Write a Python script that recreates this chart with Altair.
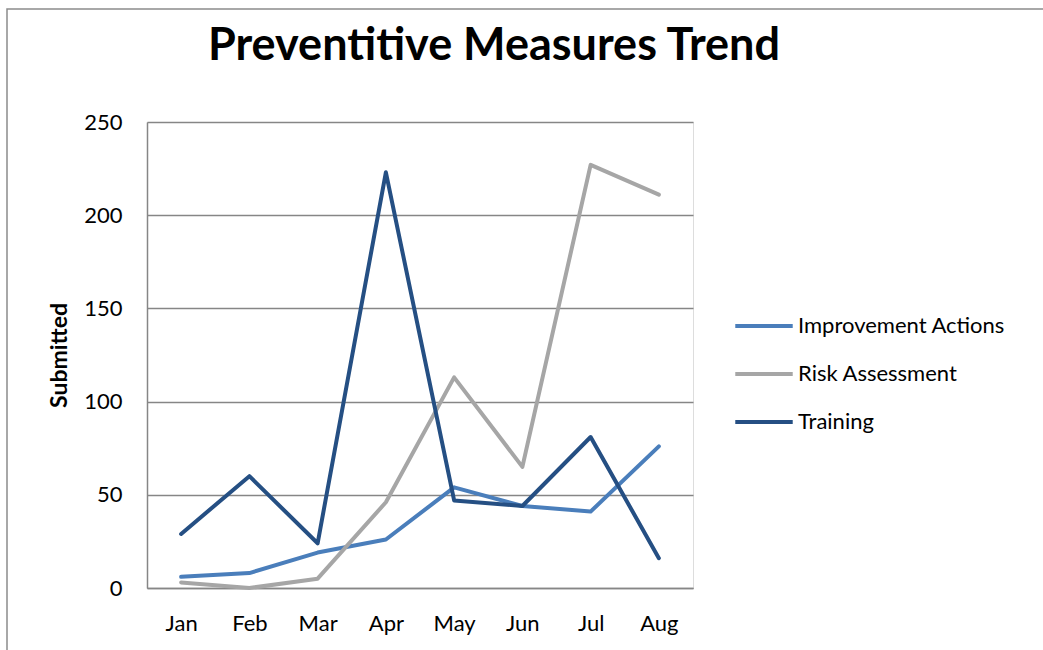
import altair as alt
import pandas as pd

months = ["Jan", "Feb", "Mar", "Apr", "May", "Jun", "Jul", "Aug"]
improvement_actions = [6, 8, 19, 26, 54, 44, 41, 76]
risk_assessment = [3, 0, 5, 46, 113, 65, 227, 211]
training = [29, 60, 24, 223, 47, 44, 81, 16]

series_names = ["Improvement Actions", "Risk Assessment", "Training"]
series_colors = ["#4A7EBB", "#A6A6A6", "#254F83"]
chart_title = "Preventitive Measures Trend"

rows = []
for name, values in zip(series_names, [improvement_actions, risk_assessment, training]):
    for m, v in zip(months, values):
        rows.append({"Month": m, "Series": name, "Submitted": v, "order": series_names.index(name)})
df = pd.DataFrame(rows)

FONT = "Lato"
single = pd.DataFrame({"k": [0]})

# Outer frame of the chart object
frame = alt.Chart(single).mark_rect(
    fill=None, stroke="#8C8C8C", strokeWidth=1.5
).encode(
    x=alt.value(-140), x2=alt.value(1100),
    y=alt.value(-113), y2=alt.value(700),
)

# Chart heading, centred over the whole chart object
heading = alt.Chart(single).mark_text(
    text=chart_title, font=FONT, fontSize=45, fontWeight="bold",
    color="#000000", align="center", baseline="alphabetic"
).encode(x=alt.value(347), y=alt.value(-62))

lines = alt.Chart(df).mark_line(
    strokeWidth=4, strokeCap="round", strokeJoin="round"
).encode(
    x=alt.X("Month:N", sort=months, scale=alt.Scale(type="point", padding=0.5),
            axis=alt.Axis(title=None, ticks=False, grid=False, domain=True,
                          domainColor="#868686", domainWidth=1.5,
                          labelAngle=0, labelFontSize=22, labelFont=FONT,
                          labelColor="#000000", labelPadding=25)),
    y=alt.Y("Submitted:Q", scale=alt.Scale(domain=[0, 250], nice=False),
            axis=alt.Axis(title="Submitted", values=[0, 50, 100, 150, 200, 250],
                          ticks=False, grid=True, gridColor="#868686", gridWidth=1.5,
                          domain=True, domainColor="#868686", domainWidth=1.5,
                          labelFontSize=22, labelFont=FONT, labelColor="#000000",
                          labelPadding=25, titleFont=FONT, titleFontSize=23,
                          titleFontWeight="bold", titleColor="#000000",
                          titlePadding=12)),
    color=alt.Color("Series:N", sort=series_names,
                    scale=alt.Scale(domain=series_names, range=series_colors),
                    legend=alt.Legend(title=None, orient="none", legendX=586, legendY=173,
                                      symbolType="stroke", symbolSize=3300,
                                      symbolStrokeWidth=4, labelFontSize=22,
                                      labelFont=FONT, labelColor="#000000",
                                      labelLimit=400, rowPadding=6, labelOffset=3)),
    order=alt.Order("order:Q"),
)

chart = alt.layer(frame, lines, heading).properties(
    width=546, height=466,
    autosize=alt.AutoSizeParams(type="none"),
    padding={"left": 147, "top": 122, "right": 350, "bottom": 62},
).configure_view(stroke=None).configure(background="white")

chart.save("out.html", embed_options={"renderer": "svg", "actions": False})
